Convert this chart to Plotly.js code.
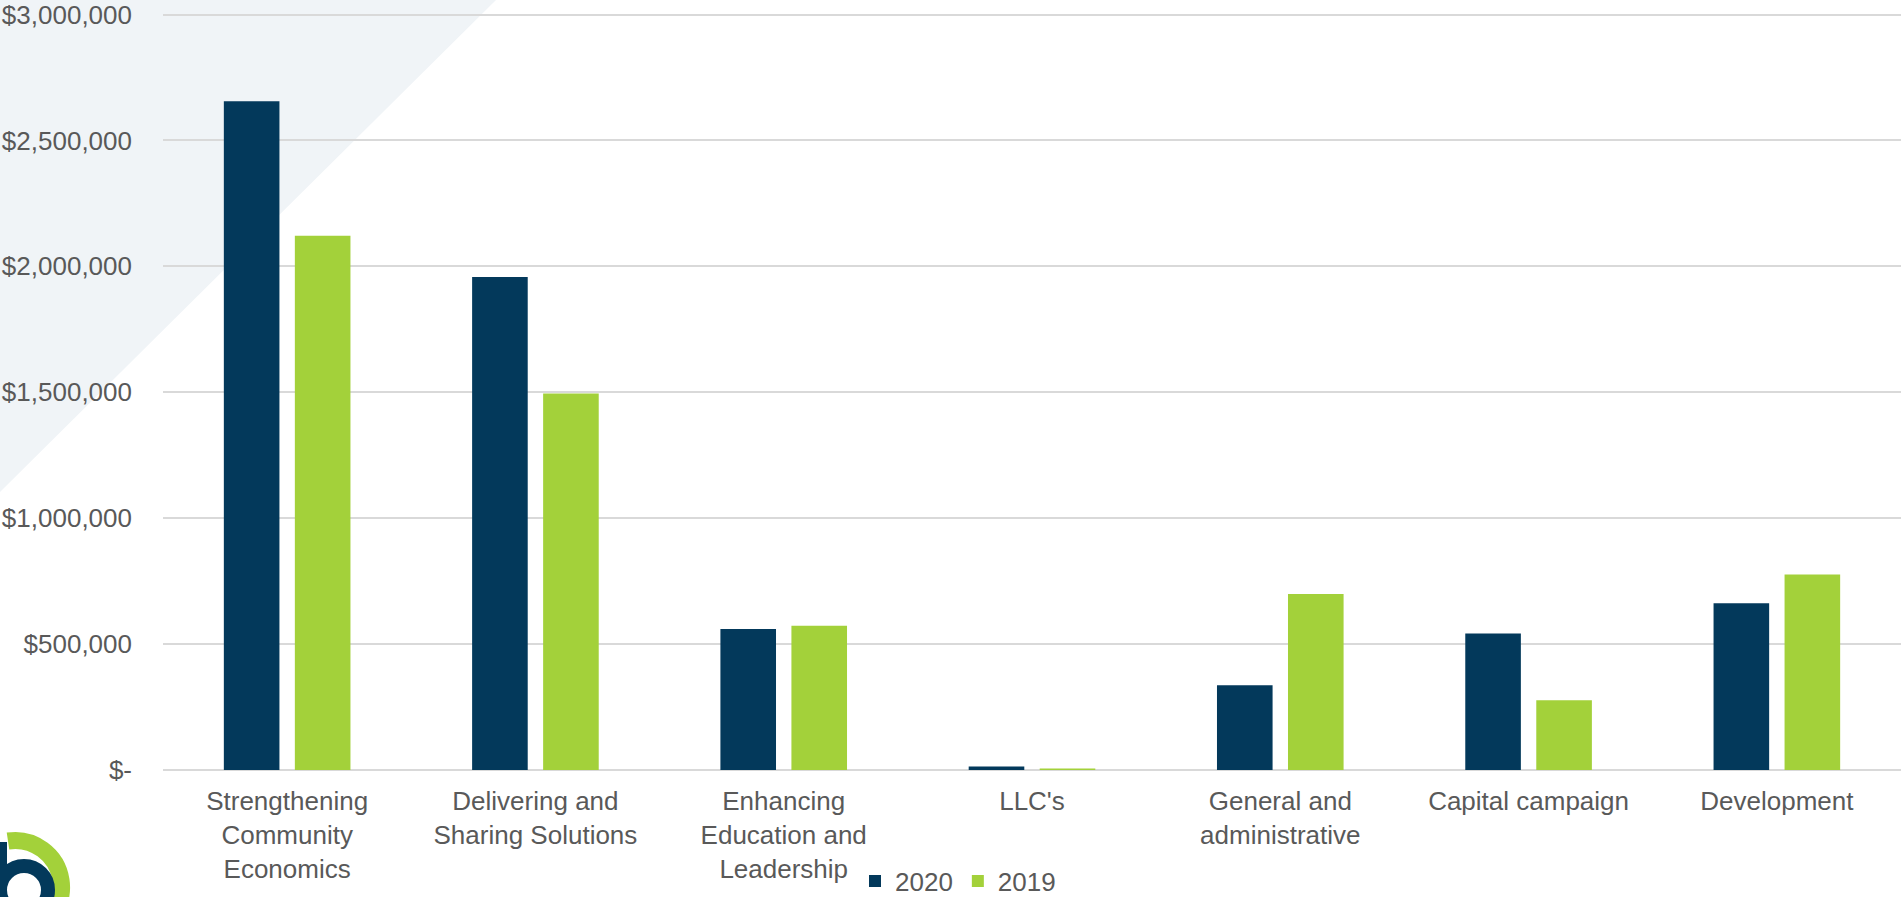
<!DOCTYPE html>
<html>
<head>
<meta charset="utf-8">
<script src="https://cdn.plot.ly/plotly-3.0.1.min.js"></script>
<style>
  html, body { margin: 0; padding: 0; background: #ffffff; }
  #chart { width: 1902px; height: 897px; }
  #logo { position: absolute; left: 0; top: 827px; width: 90px; height: 70px; }
</style>
</head>
<body>
<div id="chart"></div>
<svg id="logo" viewBox="0 827 90 70" xmlns="http://www.w3.org/2000/svg">
  <!-- green outer arc -->
  <path d="M 8 841 A 43 43 0 1 1 22 933" fill="none" stroke="#a3d13a" stroke-width="17"/>
  <!-- navy ring and stem -->
  <circle cx="24" cy="890" r="24" fill="none" stroke="#03395b" stroke-width="14"/>
  <rect x="-6" y="842" width="13" height="55" fill="#03395b"/>
</svg>
<script>
// Expense categories and yearly totals (USD)
const categories = [
  "Strengthening<br>Community<br>Economics",
  "Delivering and<br>Sharing Solutions",
  "Enhancing<br>Education and<br>Leadership",
  "LLC's",
  "General and<br>administrative",
  "Capital campaign",
  "Development"
];
const values2020 = [2656000, 1958000, 560000, 14000, 337000, 542000, 662000];
const values2019 = [2121000, 1495000, 573000, 6000, 699000, 277000, 776000];

const yTickVals = [0, 500000, 1000000, 1500000, 2000000, 2500000, 3000000];
const yTickText = ["$-", "$500,000", "$1,000,000", "$1,500,000", "$2,000,000", "$2,500,000", "$3,000,000"];

const NAVY = "#03395b";
const GREEN = "#a3d13a";
const TEXT = "#595959";
const FONT = "Liberation Sans, Arial, sans-serif";

const traces = [
  { type: "bar", name: "2020", x: categories, y: values2020,
    marker: { color: NAVY, line: { width: 0 } }, hoverinfo: "x+y" },
  { type: "bar", name: "2019", x: categories, y: values2019,
    marker: { color: GREEN, line: { width: 0 } }, hoverinfo: "x+y" }
];

// Page size and fixed plot margins in pixels
const W = 1902, H = 897;
const M = { l: 163, r: 1, t: 10, b: 127, autoexpand: false };
const pw = W - M.l - M.r, ph = H - M.t - M.b;
// The $3,000,000 line sits a few pixels below the plot top so it is drawn
const topLinePx = 14.5;
const yMax = 3000000 * ph / (H - M.b - topLinePx);
// pixel -> paper helpers for the legend and the corner triangle
const px = v => (v - M.l) / pw;
const py = v => (H - M.b - v) / ph;

const layout = {
  width: W, height: H,
  margin: M,
  paper_bgcolor: "#ffffff",
  plot_bgcolor: "rgba(0,0,0,0)",
  font: { family: FONT, size: 26, color: TEXT },
  barmode: "group",
  bargap: 0.428,
  bargroupgap: 0.217,
  showlegend: true,
  legend: {
    orientation: "h",
    x: px(958), xanchor: "center",
    y: py(881), yanchor: "middle",
    font: { family: FONT, size: 26, color: TEXT },
    bgcolor: "rgba(0,0,0,0)",
    itemwidth: 30,
    tracegroupgap: 0
  },
  xaxis: {
    type: "category",
    automargin: false,
    showgrid: false,
    showline: false,
    zeroline: false,
    ticks: "",
    ticklabelstandoff: 13,
    tickfont: { family: FONT, size: 26, color: TEXT },
    fixedrange: true
  },
  yaxis: {
    range: [0, yMax],
    automargin: false,
    tickvals: yTickVals,
    ticktext: yTickText,
    ticklabeloverflow: "allow",
    showgrid: true,
    gridcolor: "#d9d9d9",
    gridwidth: 2,
    zeroline: true,
    zerolinecolor: "#d9d9d9",
    zerolinewidth: 2,
    showline: false,
    ticks: "",
    ticklabelstandoff: 30,
    tickfont: { family: FONT, size: 26, color: TEXT },
    fixedrange: true
  },
  shapes: [
    {
      type: "path", layer: "below", xref: "paper", yref: "paper",
      path: `M ${px(0)} ${py(0)} L ${px(496)} ${py(0)} L ${px(0)} ${py(492)} Z`,
      fillcolor: "#f0f4f7", line: { width: 0 }
    }
  ]
};

Plotly.newPlot("chart", traces, layout, { displayModeBar: false, staticPlot: true });
</script>
</body>
</html>
